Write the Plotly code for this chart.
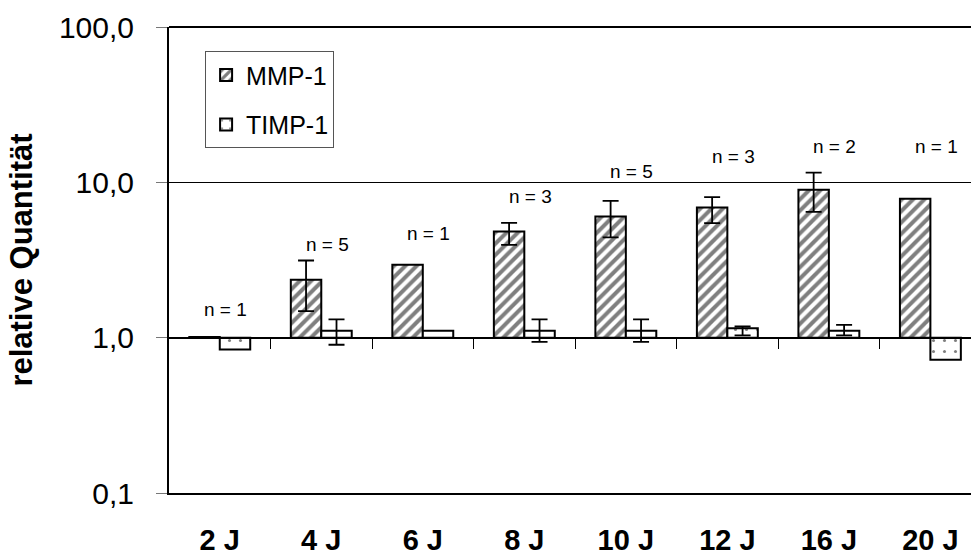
import numpy as np
import plotly.graph_objects as go

categories = ["2 J", "4 J", "6 J", "8 J", "10 J", "12 J", "16 J", "20 J"]
n_counts = [1, 5, 1, 3, 5, 3, 2, 1]
mmp = [1.01, 2.36, 2.95, 4.83, 6.03, 6.88, 8.95, 7.83]
mmp_hi = [None, 3.14, None, 5.49, 7.6, 8.03, 11.56, None]
mmp_lo = [None, 1.48, None, 3.96, 4.42, 5.46, 6.46, None]
timp = [0.84, 1.11, 1.11, 1.11, 1.11, 1.15, 1.11, 0.72]
timp_hi = [None, 1.31, None, 1.31, 1.31, 1.18, 1.21, None]
timp_lo = [None, 0.90, None, 0.94, 0.94, 1.035, 1.035, None]
n_label_y = [1.51, 3.96, 4.67, 8.07, 11.67, 14.6, 16.9, 16.9]
y_tickvals = [0.1, 1, 10, 100]
y_ticktext = ["0,1", "1,0", "10,0", "100,0"]

FONT = "Liberation Sans, Arial, sans-serif"
idx = np.arange(len(categories))
BW = 0.3
base_val = 1.0
XR = [-0.5, 7.40]

fig = go.Figure()

def add_series(name, vals, hi, lo, offset, shape, size, solidity, group):
    vals = np.array(vals, dtype=float)
    fig.add_trace(go.Bar(
        x=idx + offset, y=vals - base_val, base=base_val, width=BW, name=name,
        legendgroup=group,
        marker=dict(color="white", line=dict(color="black", width=2),
                    pattern=dict(shape=shape, fgcolor="black", bgcolor="white",
                                 size=size, solidity=solidity)),
        hoverinfo="skip",
    ))
    sel = [i for i in range(len(vals)) if hi[i] is not None]
    fig.add_trace(go.Scatter(
        x=[idx[i] + offset for i in sel], y=[vals[i] for i in sel],
        mode="markers", marker=dict(size=1, opacity=0), showlegend=False,
        error_y=dict(type="data", symmetric=False,
                     array=[hi[i] - vals[i] for i in sel],
                     arrayminus=[vals[i] - lo[i] for i in sel],
                     color="black", thickness=1.8, width=8),
        hoverinfo="skip",
    ))

add_series("MMP-1", mmp, mmp_hi, mmp_lo, -BW / 2, "/", 8, 0.5, "a")
add_series("TIMP-1", timp, timp_hi, timp_lo, BW / 2, ".", 11, 0.06, "b")

# invisible trace so the category-tick axis crossing at 1,0 is drawn
fig.add_trace(go.Scatter(x=[0], y=[1], xaxis="x2", yaxis="y", mode="markers",
                         marker=dict(size=1, opacity=0), showlegend=False,
                         hoverinfo="skip"))

for i, (n, yl) in enumerate(zip(n_counts, n_label_y)):
    fig.add_annotation(x=idx[i] + 0.06, y=np.log10(yl), text=f"n = {n}",
                       showarrow=False, font=dict(family=FONT, size=19, color="black"))

fig.update_layout(
    width=971, height=558,
    margin=dict(l=169, r=0, t=27, b=65),
    plot_bgcolor="white", paper_bgcolor="white",
    font=dict(family=FONT, color="black"),
    barmode="overlay",
    showlegend=True,
    legend=dict(x=0.045, y=0.948, xanchor="left", yanchor="top",
                bordercolor="#555555", borderwidth=1, bgcolor="white",
                font=dict(family=FONT, size=25, color="black"),
                tracegroupgap=14, itemwidth=30),
    xaxis=dict(range=XR, tickvals=list(idx),
               ticktext=[f"<b>{c}</b>" for c in categories],
               showgrid=False, zeroline=False, showline=True, linecolor="black",
               linewidth=2, ticks="", tickfont=dict(family=FONT, size=29, color="black"),
               ticklabelstandoff=20),
    xaxis2=dict(overlaying="x", anchor="free", position=1/3, range=XR,
                showline=True, linecolor="black", linewidth=1, ticks="outside",
                tickvals=[k + 0.5 for k in range(len(categories) - 1)],
                ticklen=10, tickcolor="black", tickwidth=1,
                showticklabels=False, showgrid=False, zeroline=False),
    yaxis=dict(type="log", range=[-1, 2], tickvals=y_tickvals, ticktext=y_ticktext,
               showgrid=True, gridcolor="black", gridwidth=1,
               showline=True, linecolor="black", linewidth=2,
               ticks="outside", ticklen=11, tickcolor="#777777", tickwidth=1,
               ticklabelstandoff=16,
               tickfont=dict(family=FONT, size=30, color="black"),
               title=dict(text="<b>relative Quantität</b>", standoff=17,
                          font=dict(family=FONT, size=31, color="black"))),
)
fig.add_shape(type="line", xref="paper", yref="paper", x0=0, x1=1, y0=1, y1=1,
              line=dict(color="black", width=2))

fig.write_html("out.html")
